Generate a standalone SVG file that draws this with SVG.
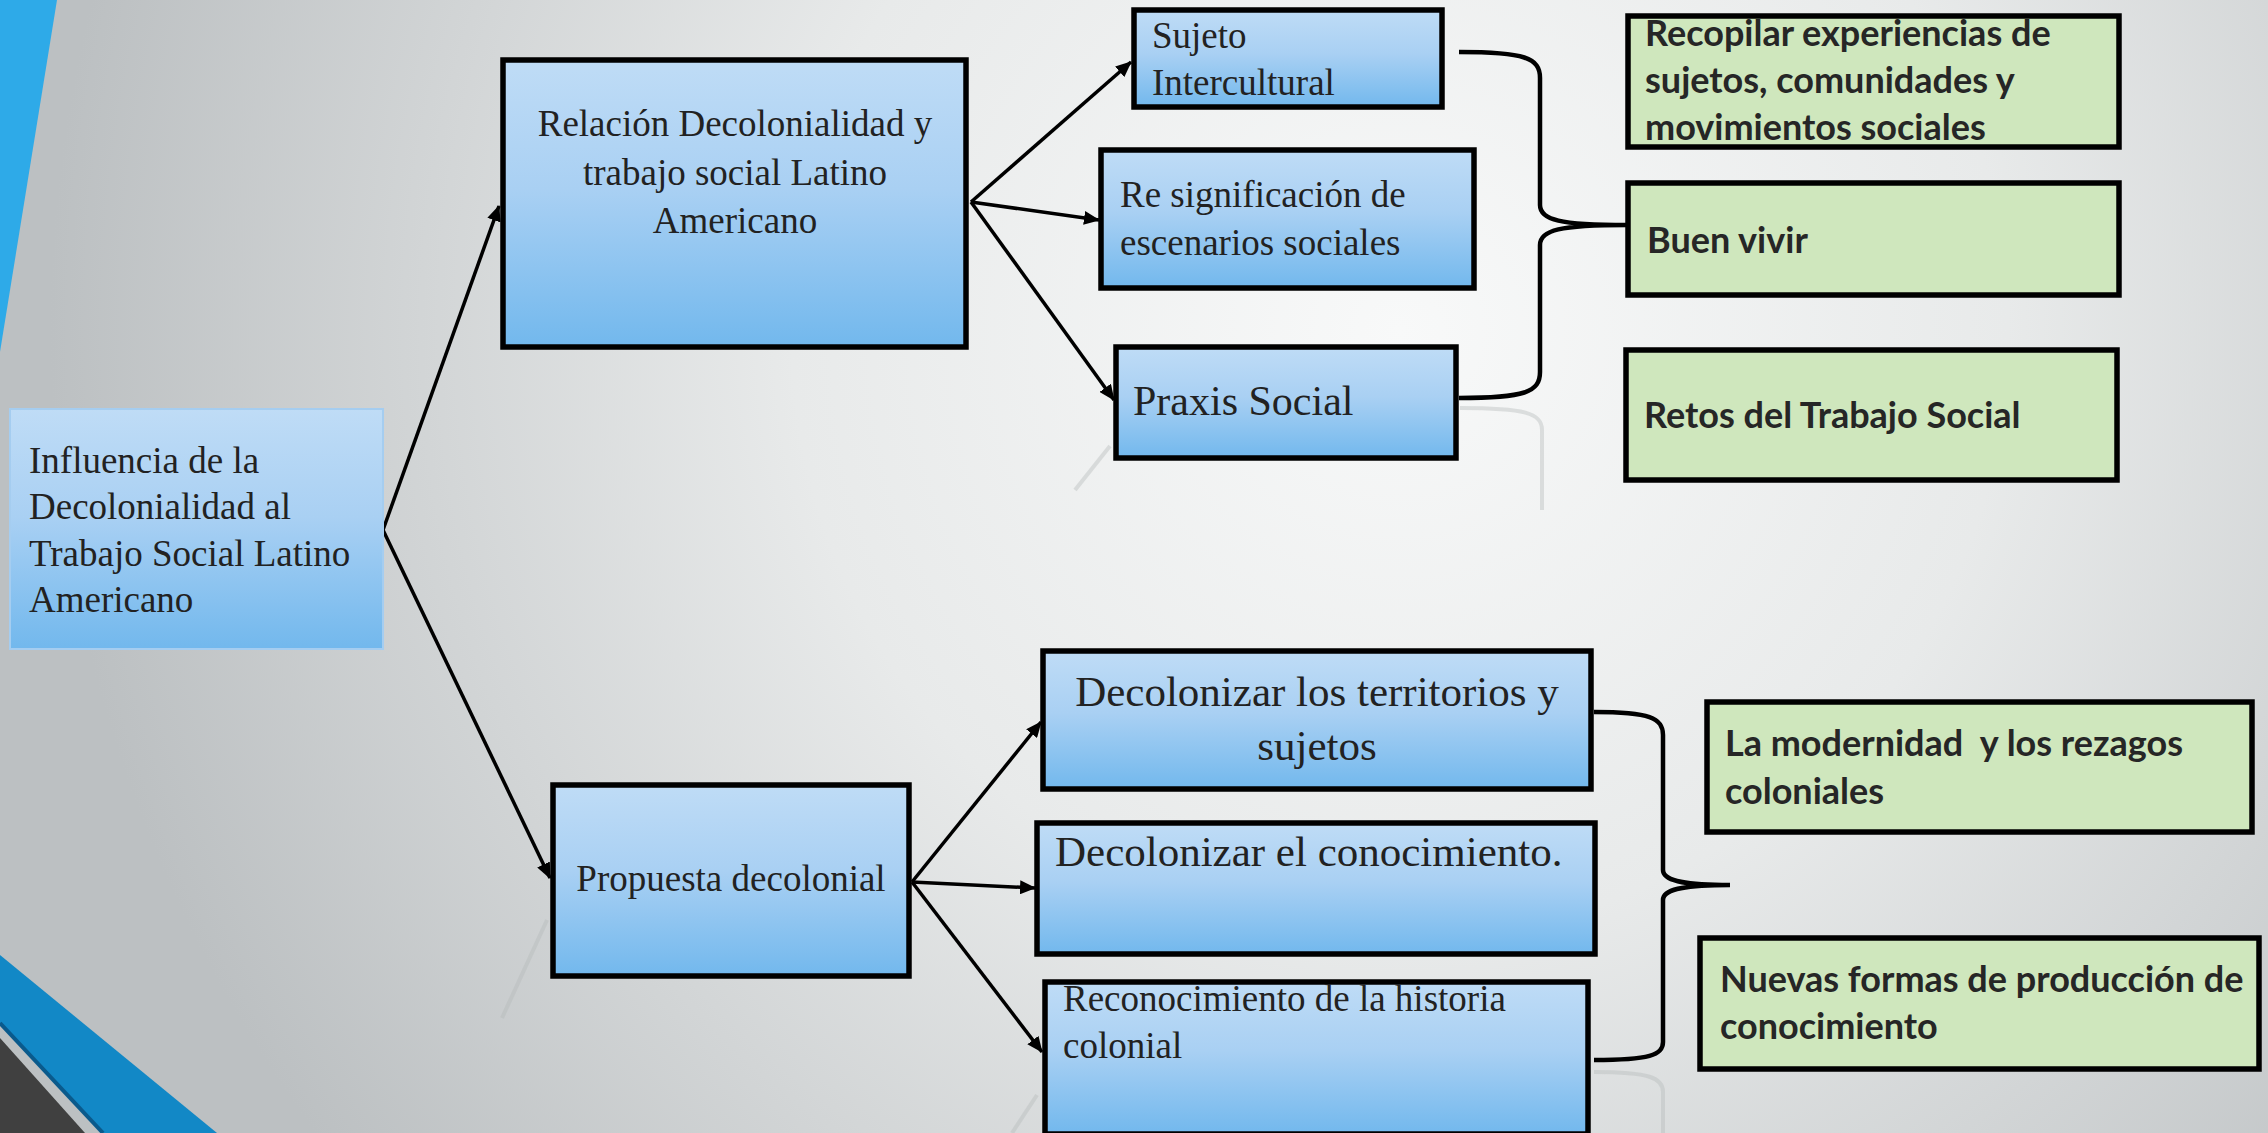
<svg xmlns="http://www.w3.org/2000/svg" width="2268" height="1133" viewBox="0 0 2268 1133">
<defs>
<radialGradient id="bg" gradientUnits="userSpaceOnUse" cx="1400" cy="330" r="1350">
<stop offset="0" stop-color="#f8f9f9"/>
<stop offset="0.45" stop-color="#e8eaea"/>
<stop offset="1" stop-color="#bcc0c2"/>
</radialGradient>
<linearGradient id="blue" x1="0" y1="0" x2="0" y2="1">
<stop offset="0" stop-color="#bfdcf6"/>
<stop offset="0.45" stop-color="#a9d0f3"/>
<stop offset="1" stop-color="#72b8ed"/>
</linearGradient>
<marker id="ah" markerUnits="userSpaceOnUse" markerWidth="18" markerHeight="14" refX="15" refY="7" orient="auto">
<path d="M0,0 L16,7 L0,14 z" fill="#000"/>
</marker>
<style>
.box{fill:url(#blue);stroke:#000;stroke-width:5.5}
.gbox{fill:#cfe7bd;stroke:#000;stroke-width:5.5}
.t{font-family:"Liberation Serif","Times New Roman",serif;font-size:37px;fill:#222}
.g{font-family:Lato,"Open Sans",sans-serif;font-weight:bold;font-size:36px;fill:#262626}
.arr{stroke:#000;stroke-width:3.5;fill:none;marker-end:url(#ah)}
.br{stroke:#000;stroke-width:4.5;fill:none}
.refl{stroke:#b5b8ba;stroke-width:4;fill:none;opacity:0.4}
</style>
</defs>
<rect x="0" y="0" width="2268" height="1133" fill="url(#bg)"/>
<g id="decor">
<polygon points="0,0 57,0 0,352" fill="#2eaae8"/>
<polygon points="0,955 217,1133 103,1133 0,1023" fill="#1288c6"/>
<line x1="0" y1="1023" x2="103" y2="1133" stroke="#0a5a8c" stroke-width="4"/>
<polygon points="0,1038 85,1133 0,1133" fill="#404040"/>
</g>
<g id="reflections">
<path class="refl" d="M1460,408 C1525,408 1542,413 1542,430 L1542,510"/>
<line class="refl" x1="1110" y1="446" x2="1075" y2="490"/>
<line class="refl" x1="547" y1="920" x2="502" y2="1018"/>
<line class="refl" x1="1037" y1="1095" x2="1012" y2="1133"/>
<path class="refl" d="M1594,1072 C1650,1072 1663,1078 1663,1092 L1663,1133"/>
</g>
<g id="connectors">
<line class="arr" x1="383" y1="530" x2="499" y2="206"/>
<line class="arr" x1="383" y1="530" x2="550" y2="878"/>
<line class="arr" x1="971" y1="202" x2="1131" y2="62"/>
<line class="arr" x1="971" y1="202" x2="1099" y2="220"/>
<line class="arr" x1="971" y1="202" x2="1114" y2="400"/>
<line class="arr" x1="912" y1="882" x2="1041" y2="722"/>
<line class="arr" x1="912" y1="882" x2="1035" y2="888"/>
<line class="arr" x1="912" y1="882" x2="1042" y2="1052"/>
<path class="br" d="M1459,52 C1525,52 1540,58 1540,78 L1540,205 C1540,220 1560,225 1627,225 C1560,225 1540,230 1540,245 L1540,372 C1540,392 1525,398 1459,398"/>
<path class="br" d="M1594,712 C1650,712 1663,718 1663,735 L1663,870 C1663,880 1680,885 1730,885 C1680,885 1663,890 1663,900 L1663,1042 C1663,1055 1650,1060 1594,1060"/>
</g>
<g id="n-influencia">
<rect x="10" y="409" width="373" height="240" fill="url(#blue)" stroke="#a5cdf0" stroke-width="2"/>
<text class="t" x="29" y="473">Influencia de la</text>
<text class="t" x="29" y="519">Decolonialidad al</text>
<text class="t" x="29" y="566">Trabajo Social Latino</text>
<text class="t" x="29" y="612">Americano</text>
</g>
<g id="n-relacion">
<rect class="box" x="503" y="60" width="463" height="287"/>
<text class="t" x="735" y="136" text-anchor="middle">Relación Decolonialidad y</text>
<text class="t" x="735" y="185" text-anchor="middle">trabajo social Latino</text>
<text class="t" x="735" y="233" text-anchor="middle">Americano</text>
</g>
<g id="n-sujeto">
<rect class="box" x="1134" y="10" width="308" height="97"/>
<text class="t" x="1152" y="48">Sujeto</text>
<text class="t" x="1152" y="95">Intercultural</text>
</g>
<g id="n-resignificacion">
<rect class="box" x="1101" y="150" width="373" height="138"/>
<text class="t" x="1120" y="207">Re significación de</text>
<text class="t" x="1120" y="255">escenarios sociales</text>
</g>
<g id="n-praxis">
<rect class="box" x="1116" y="347" width="340" height="111"/>
<text class="t" x="1133" y="415" style="font-size:42px">Praxis Social</text>
</g>
<g id="n-propuesta">
<rect class="box" x="553" y="785" width="356" height="191"/>
<text class="t" x="731" y="891" text-anchor="middle">Propuesta decolonial</text>
</g>
<g id="n-territorios">
<rect class="box" x="1043" y="651" width="548" height="138"/>
<text class="t" x="1317" y="706" text-anchor="middle" style="font-size:43px">Decolonizar los territorios y</text>
<text class="t" x="1317" y="760" text-anchor="middle" style="font-size:43px">sujetos</text>
</g>
<g id="n-conocimiento">
<rect class="box" x="1037" y="823" width="558" height="131"/>
<text class="t" x="1055" y="866" style="font-size:43px">Decolonizar el conocimiento.</text>
</g>
<g id="n-reconocimiento">
<rect class="box" x="1045" y="982" width="543" height="152"/>
<text class="t" x="1063" y="1011">Reconocimiento de la historia</text>
<text class="t" x="1063" y="1058">colonial</text>
</g>
<g id="n-recopilar">
<rect class="gbox" x="1628" y="16" width="491" height="131"/>
<text class="g" x="1645" y="46">Recopilar experiencias de</text>
<text class="g" x="1645" y="93">sujetos, comunidades y</text>
<text class="g" x="1645" y="140">movimientos sociales</text>
</g>
<g id="n-buenvivir">
<rect class="gbox" x="1628" y="183" width="491" height="112"/>
<text class="g" x="1647" y="253">Buen vivir</text>
</g>
<g id="n-retos">
<rect class="gbox" x="1626" y="350" width="491" height="130"/>
<text class="g" x="1644" y="428">Retos del Trabajo Social</text>
</g>
<g id="n-modernidad">
<rect class="gbox" x="1707" y="702" width="545" height="130"/>
<text class="g" x="1725" y="756" xml:space="preserve">La modernidad  y los rezagos</text>
<text class="g" x="1725" y="804">coloniales</text>
</g>
<g id="n-nuevas">
<rect class="gbox" x="1700" y="938" width="559" height="131"/>
<text class="g" x="1720" y="992">Nuevas formas de producción de</text>
<text class="g" x="1720" y="1039">conocimiento</text>
</g>
</svg>
